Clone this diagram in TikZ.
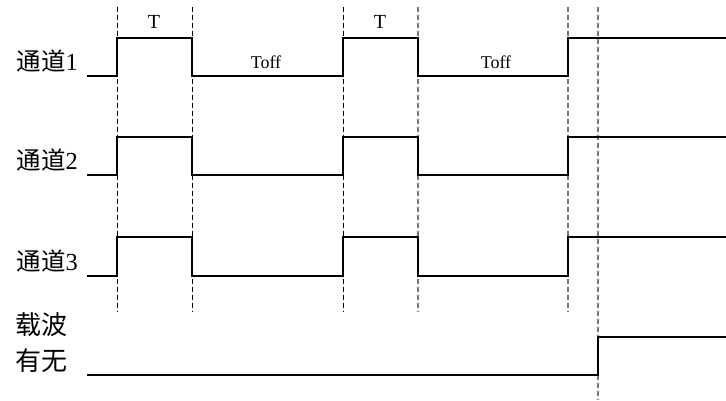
\documentclass[tikz,border=0pt]{standalone}
\usepackage{fontspec}
\setmainfont{Liberation Serif}
\newfontfamily\cjk{Noto Sans CJK SC}

\begin{document}
\begin{tikzpicture}[x=1pt,y=-1pt]
        \tikzset{sig/.style={line width=1.9pt,line join=miter},
            guide/.style={line width=0.9pt,dash pattern=on 5pt off 3pt},
            guidegray/.style={guide,line width=1.3pt,black!55},
            lbl/.style={inner sep=0pt,anchor=east,font=\fontsize{24.5}{28}\selectfont},
            tlbl/.style={inner sep=0pt,font=\fontsize{20}{24}\selectfont},
            offlbl/.style={inner sep=0pt,font=\fontsize{18}{21}\selectfont}}
        \useasboundingbox (0,0) rectangle (726,400);
        \foreach \x in {117,192,343}
            \draw[guide] (\x,7) -- (\x,312);
        \foreach \x in {418,568}
            \draw[guidegray] (\x,7) -- (\x,312);
        \draw[guidegray] (598,7) -- (598,400);
        \foreach \n/\hi/\lo in {1/38/76,2/137/175,3/237/276}
        {
            \node[lbl] (ch\n) at (78,\lo-15) {{\cjk 通道}\n};
            \draw[sig] (87,\lo) -- (117,\lo) -- (117,\hi) -- (192,\hi) -- (192,\lo)
                -- (343,\lo) -- (343,\hi) -- (418,\hi) -- (418,\lo)
                -- (568,\lo) -- (568,\hi) -- (726,\hi);
        }
        \node[tlbl] (t1) at (154,22) {T};
        \node[tlbl] (t2) at (380,22) {T};
        \node[offlbl] (off1) at (266,62) {Toff};
        \node[offlbl] (off2) at (496,62) {Toff};
        \node[inner sep=0pt,anchor=west,align=left,
            font=\fontsize{26}{36}\selectfont\cjk] (carrier) at (15,343) {载波\\有无};
        \draw[sig] (87,375) -- (598,375) -- (598,337) -- (726,337);
    \end{tikzpicture}
\end{document}
